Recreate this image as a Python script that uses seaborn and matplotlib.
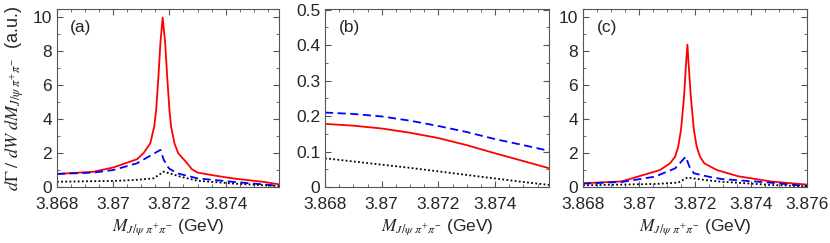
import numpy as np
import pandas as pd
import seaborn as sns
import matplotlib.pyplot as plt
from matplotlib.ticker import MultipleLocator, FixedLocator, FixedFormatter

# panel (a)
red_a_x = [3.868, 3.8693, 3.8700, 3.87085, 3.87108, 3.87132, 3.87146, 3.87153, 3.87161, 3.87168,
           3.87176, 3.87185, 3.87192, 3.872, 3.87206, 3.87218, 3.87231, 3.87263, 3.8728, 3.873,
           3.8737, 3.87429, 3.87536, 3.87593]
red_a_y = [0.77, 0.9, 1.15, 1.64, 2.0, 2.58, 3.57, 4.56, 6.53, 8.5,
           10.0, 8.5, 6.53, 4.56, 3.57, 2.58, 2.0, 1.4, 1.05, 0.85,
           0.65, 0.5, 0.3, 0.15]
blue_a_x = [3.868, 3.8693, 3.8700, 3.87085, 3.87168, 3.8718, 3.87198, 3.87227, 3.873, 3.87429, 3.87536, 3.87593]
blue_a_y = [0.77, 0.85, 1.0, 1.4, 2.19, 1.6, 1.1, 0.81, 0.51, 0.3, 0.15, 0.06]
black_a_x = [3.868, 3.8700, 3.87075, 3.87144, 3.8718, 3.87239, 3.873, 3.87429, 3.87593]
black_a_y = [0.31, 0.36, 0.41, 0.51, 0.91, 0.61, 0.37, 0.2, 0.05]

# panel (b)
b_x = [3.868, 3.869, 3.870, 3.871, 3.872, 3.873, 3.874, 3.875, 3.8759]
red_b_y = [0.178, 0.173, 0.165, 0.153, 0.138, 0.118, 0.095, 0.073, 0.053]
blue_b_y = [0.21, 0.206, 0.199, 0.187, 0.172, 0.155, 0.135, 0.118, 0.102]
black_b_y = [0.081, 0.072, 0.063, 0.054, 0.044, 0.034, 0.024, 0.014, 0.006]

# panel (c)
red_c_x = [3.868, 3.86938, 3.87075, 3.87111, 3.87129, 3.8714, 3.8715, 3.87161, 3.87168, 3.87173,
           3.87177, 3.87185, 3.87196, 3.87206, 3.87218, 3.87233, 3.87278, 3.87355, 3.87474, 3.876]
red_c_y = [0.22, 0.33, 1.0, 1.4, 1.79, 2.38, 3.37, 5.34, 7.3, 8.4,
           7.3, 5.34, 3.37, 2.38, 1.79, 1.4, 1.0, 0.63, 0.32, 0.14]
blue_c_x = [3.868, 3.8694, 3.87057, 3.87129, 3.87167, 3.8718, 3.87196, 3.87248, 3.87295, 3.87474, 3.876]
blue_c_y = [0.2, 0.3, 0.61, 1.1, 1.79, 1.2, 0.81, 0.61, 0.47, 0.25, 0.05]
black_c_x = [3.868, 3.8706, 3.8714, 3.87173, 3.87236, 3.87295, 3.87474, 3.876]
black_c_y = [0.1, 0.18, 0.26, 0.56, 0.41, 0.31, 0.12, 0.04]

sns.set_style("ticks")
plt.rcParams['font.family'] = ['Liberation Sans', 'DejaVu Sans']
plt.rcParams['mathtext.fontset'] = 'stix'

fig = plt.figure(figsize=(8.3, 2.43), dpi=100)
pos = [(57, 222), (325, 224), (583, 224)]
axes = [fig.add_axes([l / 830, 1 - 187 / 243, w / 830, 178 / 243]) for l, w in pos]

def draw(ax, xs, ys, color, style):
    df = pd.DataFrame({"x": xs, "y": ys})
    sns.lineplot(data=df, x="x", y="y", ax=ax, color=color, lw=1.3,
                 linestyle=style, estimator=None, sort=False)

draw(axes[0], red_a_x, red_a_y, "#ff0000", "-")
draw(axes[0], blue_a_x, blue_a_y, "#0000ff", (0, (4.5, 2.5)))
draw(axes[0], black_a_x, black_a_y, "black", (0, (1, 1.3)))
draw(axes[1], b_x, red_b_y, "#ff0000", "-")
draw(axes[1], b_x, blue_b_y, "#0000ff", (0, (4.5, 2.5)))
draw(axes[1], b_x, black_b_y, "black", (0, (1, 1.3)))
draw(axes[2], red_c_x, red_c_y, "#ff0000", "-")
draw(axes[2], blue_c_x, blue_c_y, "#0000ff", (0, (4.5, 2.5)))
draw(axes[2], black_c_x, black_c_y, "black", (0, (1, 1.3)))

xlab = r'$M_{J/\psi\;\pi^{+}\pi^{-}}$ (GeV)'
for ax, tag, xmax in zip(axes, ["(a)", "(b)", "(c)"], [3.8759, 3.8759, 3.876]):
    ax.set_xlim(3.868, xmax)
    ticks = [3.868, 3.870, 3.872, 3.874] + ([3.876] if xmax >= 3.876 else [])
    labels = ["3.868", "3.87", "3.872", "3.874", "3.876"][:len(ticks)]
    ax.xaxis.set_major_locator(FixedLocator(ticks))
    ax.xaxis.set_major_formatter(FixedFormatter(labels))
    ax.xaxis.set_minor_locator(MultipleLocator(0.0005))
    ax.tick_params(which="both", direction="in", top=True, right=True,
                   labelsize=12.5, color="#555555")
    ax.tick_params(which="major", length=4)
    ax.tick_params(which="minor", length=2)
    ax.tick_params(axis="x", pad=7)
    for s in ax.spines.values():
        s.set_color("#555555")
        s.set_linewidth(0.8)
    ax.set_xlabel(xlab, fontsize=12.5, labelpad=4)
    ax.set_ylabel("")
    ax.text(0.06, 0.94, tag, transform=ax.transAxes, fontsize=12.5, va="top")

for i in (0, 2):
    axes[i].set_ylim(0, 10.5)
    axes[i].yaxis.set_major_locator(FixedLocator([0, 2, 4, 6, 8, 10]))
    axes[i].yaxis.set_minor_locator(MultipleLocator(1))
axes[1].set_ylim(0, 0.502)
axes[1].yaxis.set_major_locator(FixedLocator([0, 0.1, 0.2, 0.3, 0.4, 0.5]))
axes[1].yaxis.set_major_formatter(FixedFormatter(["0", "0.1", "0.2", "0.3", "0.4", "0.5"]))
axes[1].yaxis.set_minor_locator(MultipleLocator(0.05))

axes[0].set_ylabel(r'$d\mathit{\Gamma}\ /\ dW\ dM_{J/\psi\;\pi^{+}\pi^{-}}$  (a.u.)',
                   fontsize=13, labelpad=5)

fig.savefig("out.png", dpi=100)
